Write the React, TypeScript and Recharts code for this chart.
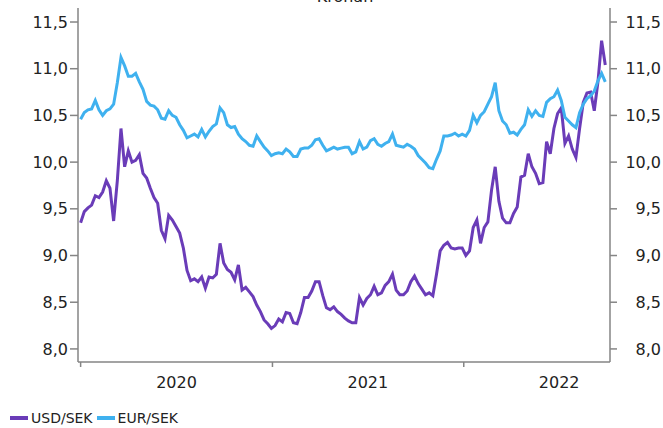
import { LineChart, Line, XAxis, YAxis } from 'recharts';

// Weekly closes from the first week of 2020 through late September 2022
const usdSek = [
  9.35, 9.47, 9.51, 9.54, 9.64, 9.62, 9.68, 9.8, 9.72, 9.37,
  9.8, 10.36, 9.95, 10.12, 10.0, 10.02, 10.08, 9.88, 9.83, 9.72,
  9.62, 9.56, 9.27, 9.18, 9.43, 9.38, 9.31, 9.24, 9.08, 8.84,
  8.73, 8.75, 8.72, 8.77, 8.65, 8.77, 8.76, 8.8, 9.13, 8.92,
  8.85, 8.82, 8.74, 8.9, 8.63, 8.66, 8.61, 8.56, 8.47, 8.4,
  8.31, 8.27, 8.22, 8.25, 8.32, 8.29, 8.39, 8.38, 8.28, 8.27,
  8.39, 8.55, 8.55, 8.62, 8.72, 8.72, 8.57, 8.44, 8.42, 8.45,
  8.4, 8.37, 8.33, 8.3, 8.28, 8.28, 8.55, 8.47, 8.54, 8.58,
  8.67, 8.58, 8.6, 8.68, 8.72, 8.8, 8.63, 8.58, 8.58, 8.62,
  8.72, 8.78, 8.7, 8.64, 8.58, 8.6, 8.57, 8.8, 9.05, 9.11,
  9.14, 9.08, 9.07, 9.08, 9.08, 9.0, 9.05, 9.3, 9.38, 9.13,
  9.3, 9.36, 9.7, 9.95, 9.58, 9.4, 9.35, 9.35, 9.45, 9.52,
  9.84, 9.86, 10.09, 9.95, 9.88, 9.77, 9.78, 10.22, 10.09, 10.36,
  10.52, 10.58, 10.2, 10.28, 10.14, 10.05, 10.36, 10.64, 10.74, 10.75,
  10.55, 10.86, 11.3, 11.04,
];

const eurSek = [
  10.46, 10.53, 10.56, 10.57, 10.66, 10.56, 10.5, 10.55, 10.57, 10.62,
  10.85, 11.12, 11.03, 10.92, 10.92, 10.95, 10.86, 10.78, 10.65, 10.61,
  10.6, 10.56, 10.47, 10.46, 10.55, 10.5, 10.48, 10.4, 10.34, 10.26,
  10.28, 10.3, 10.27, 10.35, 10.27, 10.33, 10.38, 10.41, 10.58, 10.53,
  10.4, 10.37, 10.38, 10.3, 10.25, 10.22, 10.18, 10.17, 10.28, 10.22,
  10.16, 10.12, 10.07, 10.09, 10.1, 10.09, 10.14, 10.11, 10.06, 10.06,
  10.14, 10.15, 10.15, 10.18, 10.24, 10.25, 10.18, 10.12, 10.14, 10.16,
  10.14, 10.15, 10.16, 10.16, 10.09, 10.11, 10.22, 10.14, 10.16, 10.23,
  10.25, 10.19, 10.17, 10.2, 10.22, 10.3, 10.18, 10.17, 10.16, 10.19,
  10.17, 10.14, 10.07, 10.03, 9.99, 9.94, 9.93, 10.03, 10.12, 10.28,
  10.28, 10.29, 10.31, 10.28, 10.3, 10.28, 10.34, 10.5, 10.42, 10.5,
  10.54, 10.62, 10.7, 10.85, 10.55, 10.44, 10.4, 10.31, 10.32, 10.29,
  10.35, 10.4, 10.56, 10.49, 10.55, 10.5, 10.49, 10.64, 10.68, 10.7,
  10.77, 10.66, 10.48, 10.44, 10.4, 10.37, 10.53, 10.62, 10.68, 10.71,
  10.76, 10.87, 10.95, 10.86,
];

// Days since 2020-01-01
const yearStarts = [0, 366, 731];
const yearMids = [183, 548, 913];
const yearLabels = ['2020', '2021', '2022'];
const yTicks = [8.0, 8.5, 9.0, 9.5, 10.0, 10.5, 11.0, 11.5];

const USD_COLOR = '#6a3cb8';
const EUR_COLOR = '#3fb1ef';
const AXIS = '#858585';
const TEXT = '#222';
const FONT = '"DejaVu Sans", sans-serif';

const data = usdSek.map((usd, i) => ({ day: i * 7, usd, eur: eurSek[i] }));

const fmt = (v: number) => v.toFixed(1).replace('.', ',');

const YearTick = ({ x, y, payload }: any) => {
  const idx = yearMids.indexOf(payload.value);
  if (idx >= 0) {
    return (
      <text x={x} y={y + 26} textAnchor="middle" fontSize={16} fill={TEXT} fontFamily={FONT}>
        {yearLabels[idx]}
      </text>
    );
  }
  return <line x1={x} x2={x} y1={y} y2={y + 5} stroke={AXIS} strokeWidth={1.5} />;
};

const RightTick = ({ x, y, payload }: any) => (
  <text x={x + 42} y={y} dy="0.355em" textAnchor="end" fontSize={16} fill={TEXT} fontFamily={FONT}>
    {fmt(payload.value)}
  </text>
);

const legendItems = [
  { name: 'USD/SEK', color: USD_COLOR },
  { name: 'EUR/SEK', color: EUR_COLOR },
];

export default function App() {
  return (
    <div style={{ position: 'absolute', left: 0, top: 0, width: 663, height: 428, background: '#fff', fontFamily: FONT, overflow: 'hidden' }}>
      <div style={{ position: 'absolute', left: 0, width: 690, top: -11, lineHeight: '16px', fontSize: 16, textAlign: 'center', color: TEXT }}>
        Kronan
      </div>
      <LineChart width={663} height={428} data={data} margin={{ top: 8, right: 0, left: 0, bottom: 36 }}>
        <XAxis
          dataKey="day"
          type="number"
          domain={[-5, 1010]}
          ticks={[yearStarts[0], yearMids[0], yearStarts[1], yearMids[1], yearStarts[2], yearMids[2]]}
          tick={<YearTick />}
          tickLine={false}
          tickSize={0}
          tickMargin={0}
          height={30}
          axisLine={{ stroke: AXIS, strokeWidth: 1.5 }}
          interval={0}
        />
        <YAxis
          yAxisId="left"
          domain={[7.86, 11.65]}
          ticks={yTicks}
          tickFormatter={fmt}
          width={78}
          tickSize={8}
          tickMargin={2}
          tick={{ fontSize: 16, fill: TEXT, fontFamily: FONT }}
          tickLine={{ stroke: AXIS, strokeWidth: 1.5 }}
          axisLine={{ stroke: AXIS, strokeWidth: 1.5 }}
          interval={0}
        />
        <YAxis
          yAxisId="right"
          orientation="right"
          domain={[7.86, 11.65]}
          ticks={yTicks}
          width={53}
          tickSize={7}
          tickMargin={2}
          tick={<RightTick />}
          tickLine={{ stroke: AXIS, strokeWidth: 1.5 }}
          axisLine={{ stroke: AXIS, strokeWidth: 1.5 }}
          interval={0}
        />
        <Line yAxisId="left" type="linear" dataKey="usd" name="USD/SEK" stroke={USD_COLOR} strokeWidth={3} dot={false} isAnimationActive={false} />
        <Line yAxisId="right" type="linear" dataKey="eur" name="EUR/SEK" stroke={EUR_COLOR} strokeWidth={3} dot={false} isAnimationActive={false} />
      </LineChart>
      <div style={{ position: 'absolute', left: 10, top: 410, display: 'flex', alignItems: 'center', fontSize: 14, color: TEXT }}>
        {legendItems.map((item) => (
          <div key={item.name} style={{ display: 'flex', alignItems: 'center', marginRight: 4 }}>
            <span style={{ display: 'inline-block', width: 18, height: 4, background: item.color, marginRight: 3 }} />
            <span>{item.name}</span>
          </div>
        ))}
      </div>
    </div>
  );
}
